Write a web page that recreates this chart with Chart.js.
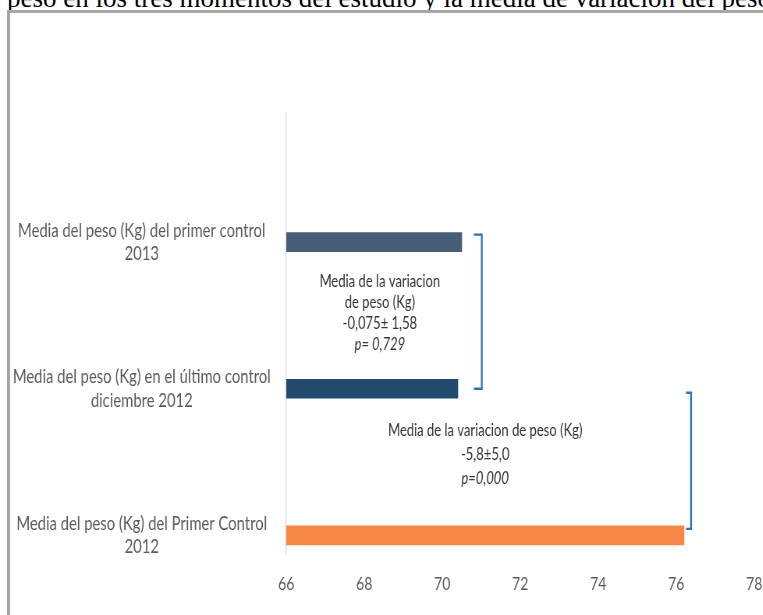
<!DOCTYPE html>
<html>
<head>
<meta charset="utf-8">
<script src="https://cdn.jsdelivr.net/npm/chart.js@4.4.1/dist/chart.umd.min.js"></script>
<style>
  html, body { margin: 0; padding: 0; background: #fff; overflow: hidden; }
  #wrap { position: relative; width: 763px; height: 615px; overflow: hidden; }
  #titulo { position: absolute; left: 7px; top: -15px; font: 27px "Liberation Serif", "Times New Roman", serif; line-height: 27px; white-space: nowrap; color: #000; }
  #marco { position: absolute; left: 7px; top: 10px; width: 820px; height: 700px; border-left: 3px solid #a6a6a6; border-top: 3px solid #a6a6a6; }
  /* el grafico se dibuja mas ancho y se estrecha: letra alta y angosta */
  #grafico { position: absolute; left: 0; top: 0; transform: scaleX(0.78); transform-origin: 0 0; }
</style>
</head>
<body>
<div id="wrap">
  <div id="titulo">peso en los tres momentos del estudio y la media de variación del peso</div>
  <div id="marco"></div>
  <canvas id="grafico" width="978" height="615"></canvas>
</div>
<script>
const categorias = [
  ['Media del peso (Kg) del primer control', '2013'],
  ['Media del peso (Kg) en el último control', 'diciembre 2012'],
  ['Media del peso (Kg) del Primer Control', '2012']
];
const posiciones = [0, 1, 2];
const pesoMedio = [70.5, 70.4, 76.2];
const coloresBarra = ['#465d78', '#214a6e', '#f68846'];
const ticksX = [66, 68, 70, 72, 74, 76, 78];
const notaVariacion1 = ['Media de la variacion', 'de peso (Kg)', '-0,075\u00b1 1,58', 'p= 0,729'];
const notaVariacion2 = ['Media de la variacion de peso (Kg)', '-5,8\u00b15,0', 'p=0,000'];

const estrechar = 0.78;   // mismo factor que el scaleX del css
const fuente = 'Lato, "DejaVu Sans", sans-serif';
Chart.defaults.font.family = fuente;

// corchetes azules y textos de la variacion entre barras
const anotaciones = {
  id: 'anotaciones',
  afterDatasetsDraw(chart) {
    const ctx = chart.ctx;
    const barras = chart.getDatasetMeta(0).data;
    const sx = chart.scales.x;
    const h = barras[0].height;
    const px = v => v / estrechar;

    ctx.save();
    ctx.strokeStyle = '#2e75b6';
    ctx.lineWidth = 2.3;
    const corchete = (xr, y1, y2, ala) => {
      ctx.beginPath();
      ctx.moveTo(xr - ala, y1);
      ctx.lineTo(xr, y1);
      ctx.lineTo(xr, y2);
      ctx.lineTo(xr - ala, y2);
      ctx.stroke();
    };
    corchete(Math.max(barras[0].x, barras[1].x) + px(20), barras[0].y - h / 2 + 2, barras[1].y, px(8));
    corchete(barras[2].x + px(7), barras[1].y + 4, barras[2].y - h / 2 + 3, px(5));

    ctx.fillStyle = '#333333';
    ctx.textAlign = 'center';
    ctx.textBaseline = 'middle';
    const escribir = (lineas, cx, cy, paso) => {
      lineas.forEach((t, i) => {
        const italica = t.startsWith('p=');
        ctx.font = (italica ? 'italic ' : '') + '16.7px ' + fuente;
        ctx.fillText(t, cx, cy + (i - (lineas.length - 1) / 2) * paso);
      });
    };
    escribir(notaVariacion1, sx.getPixelForValue(68.4), (barras[0].y + barras[1].y) / 2 - 2, 21);
    escribir(notaVariacion2, sx.getPixelForValue(71.1), (barras[1].y + barras[2].y) / 2 - 7, 24);
    ctx.restore();
  }
};

new Chart(document.getElementById('grafico'), {
  type: 'bar',
  data: {
    datasets: [{
      data: pesoMedio.map((v, i) => ({ x: v, y: posiciones[i] })),
      backgroundColor: coloresBarra,
      barThickness: 19
    }]
  },
  options: {
    indexAxis: 'y',
    responsive: false,
    animation: false,
    layout: { padding: { top: 113, right: 11, bottom: 0, left: 0 } },
    plugins: { legend: { display: false }, tooltip: { enabled: false } },
    scales: {
      x: {
        type: 'linear',
        min: 66,
        max: 78,
        afterBuildTicks: s => { s.ticks = ticksX.map(v => ({ value: v })); },
        // marcas invisibles: solo separan las etiquetas del area
        grid: { display: true, drawOnChartArea: false, drawTicks: true, tickLength: 20, color: 'rgba(0,0,0,0)' },
        border: { display: false },
        ticks: { padding: 0, color: '#595959', font: { size: 18 } },
        afterFit: s => { s.height = 62; }
      },
      y: {
        type: 'linear',
        offset: false,
        reverse: true,
        min: -0.88,
        max: 2.12,
        afterBuildTicks: s => { s.ticks = posiciones.map(v => ({ value: v })); },
        grid: { display: false, drawTicks: false },
        border: { display: true, color: '#d9d9d9', width: 1.3 },
        ticks: {
          callback: v => categorias[v],
          crossAlign: 'center',
          padding: 20,
          color: '#595959',
          font: { size: 19, lineHeight: 1.23 }
        },
        afterFit: s => { s.width = Math.round(286 / estrechar); }
      }
    }
  },
  plugins: [anotaciones]
});
</script>
</body>
</html>
